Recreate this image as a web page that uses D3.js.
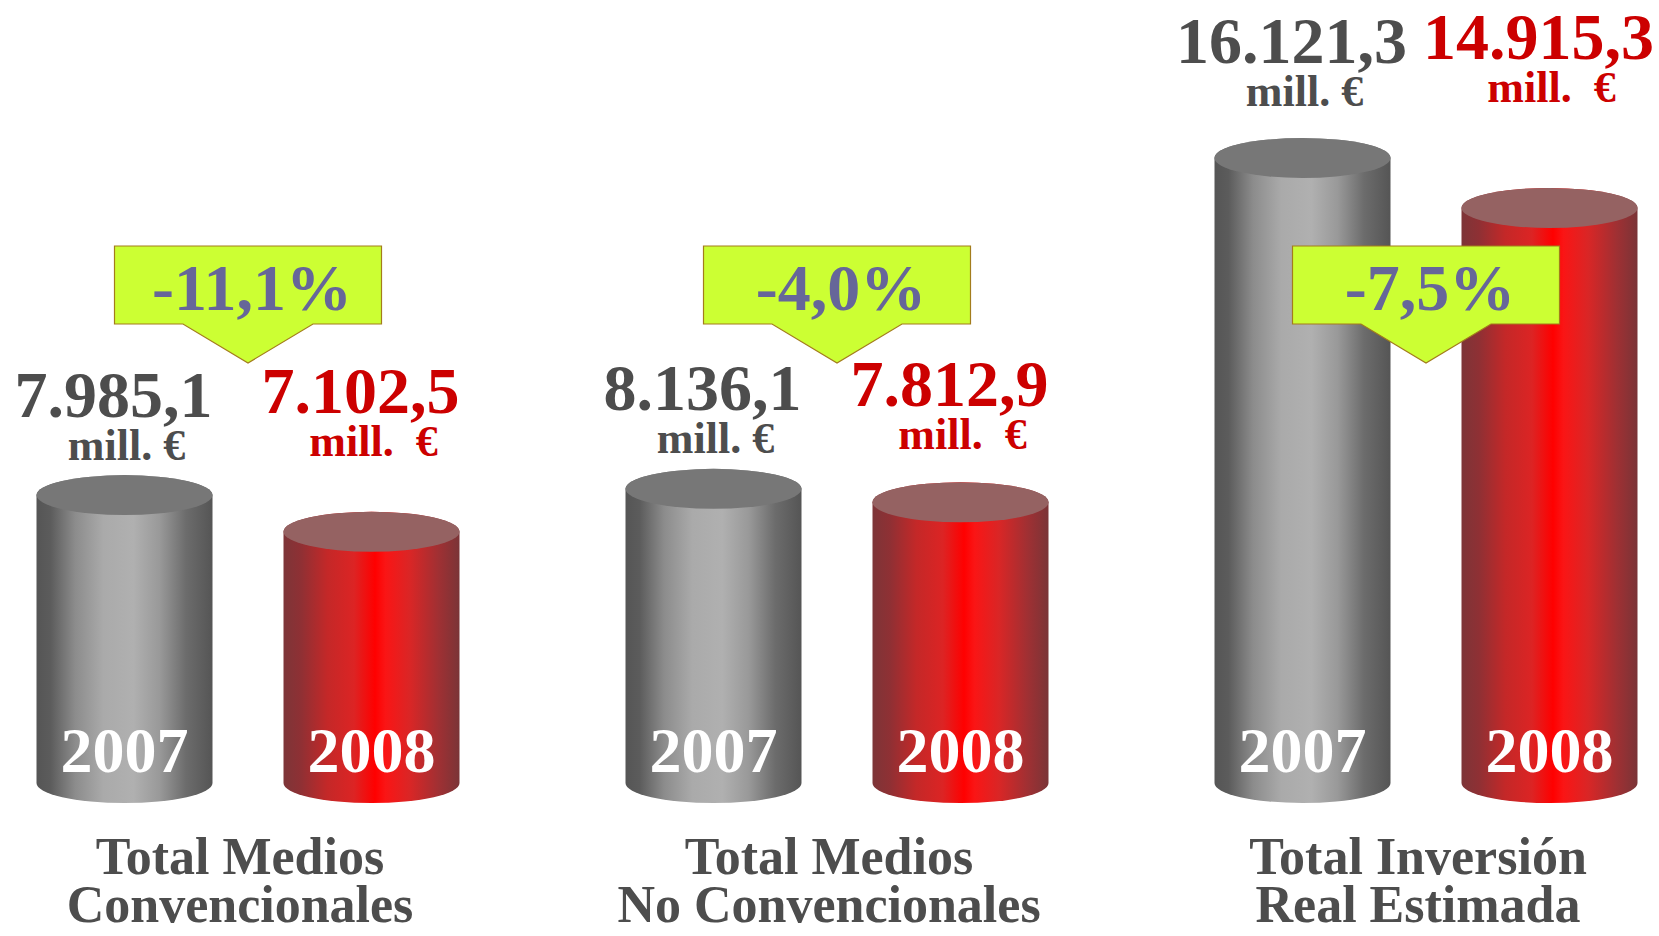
<!DOCTYPE html>
<html>
<head>
<meta charset="utf-8">
<script src="https://cdn.jsdelivr.net/npm/d3@7"></script>
<style>
    body { margin: 0; background: #fff; }
    svg text { font-family: "Liberation Serif", "Times New Roman", serif; font-weight: bold; white-space: pre; }
</style>
</head>
<body>
<div id="chart"></div>
<script>
// categories and their two-line labels
var categories = ["conv", "noconv", "total"];
var categoryLines = [
    ["Total Medios", "Convencionales"],
    ["Total Medios", "No Convencionales"],
    ["Total Inversión", "Real Estimada"]
];
var years = ["2007", "2008"];
var values2007 = [7985.1, 8136.1, 16121.3];
var values2008 = [7102.5, 7812.9, 14915.3];
var valueLabels2007 = ["7.985,1", "8.136,1", "16.121,3"];
var valueLabels2008 = ["7.102,5", "7.812,9", "14.915,3"];
var changeLabels = ["-11,1%", "-4,0%", "-7,5%"];
var unitLabels = ["mill. €", "mill.  €"];

var width = 1659,
    height = 936,
    base = 783,
    rx = 88,
    ry = 20;

var svg = d3.select("#chart")
    .append("svg")
    .attr("width", width)
    .attr("height", height);

var defs = svg.append("defs");

function hGradient(id, stops) {
    var g = defs.append("linearGradient")
        .attr("id", id)
        .attr("x1", "0%").attr("x2", "100%")
        .attr("y1", "0%").attr("y2", "0%");
    stops.forEach(function(s) {
        g.append("stop").attr("offset", s[0]).attr("stop-color", s[1]);
    });
}

hGradient("grayGrad", [
    ["0%", "#555555"], ["8%", "#5c5c5c"], ["22%", "#8c8c8c"], ["38%", "#aaaaaa"],
    ["55%", "#b0b0b0"], ["70%", "#999999"], ["85%", "#6c6c6c"], ["100%", "#555555"]
]);
hGradient("redGrad", [
    ["0%", "#7d3538"], ["10%", "#8f3034"], ["25%", "#c42828"], ["40%", "#dc2424"],
    ["52%", "#ff0000"], ["58%", "#fa1515"], ["72%", "#d92626"], ["88%", "#a03033"], ["100%", "#7a3437"]
]);

var sideFill = ["url(#grayGrad)", "url(#redGrad)"];
var topFill = ["#777777", "#956262"];
var textColor = ["#4d4d4d", "#cc0000"];

// vertical value scale (cylinder top centre)
var y = d3.scaleLinear()
    .domain([0, 16000])
    .range([826, 163]);

var xGroup = d3.scalePoint()
    .domain(categories)
    .range([248, 1426]);

var xYear = d3.scalePoint()
    .domain(years)
    .range([-123.5, 123.5]);

var data = categories.map(function(c, i) {
    return {
        key: c,
        lines: categoryLines[i],
        change: changeLabels[i],
        bars: [
            { year: years[0], value: values2007[i], label: valueLabels2007[i], k: 0 },
            { year: years[1], value: values2008[i], label: valueLabels2008[i], k: 1 }
        ]
    };
});

var groups = svg.selectAll("g.group")
    .data(data)
    .enter().append("g")
    .attr("class", "group")
    .attr("transform", function(d) {
        return "translate(" + xGroup(d.key) + ",0)";
    });

var bars = groups.selectAll("g.bar")
    .data(function(d) { return d.bars; })
    .enter().append("g")
    .attr("class", "bar");

// cylinder body
bars.append("path")
    .attr("d", function(d) {
        var cx = xYear(d.year),
            t = y(d.value);
        return "M" + (cx - rx) + "," + t +
            "L" + (cx - rx) + "," + base +
            "A" + rx + "," + ry + " 0 0 0 " + (cx + rx) + "," + base +
            "L" + (cx + rx) + "," + t +
            "A" + rx + "," + ry + " 0 0 0 " + (cx - rx) + "," + t + "Z";
    })
    .style("fill", function(d) { return sideFill[d.k]; });

// cylinder top
bars.append("ellipse")
    .attr("cx", function(d) { return xYear(d.year); })
    .attr("cy", function(d) { return y(d.value); })
    .attr("rx", rx)
    .attr("ry", ry)
    .style("fill", function(d) { return topFill[d.k]; });

// year label
bars.append("text")
    .attr("x", function(d) { return xYear(d.year); })
    .attr("y", base - 11)
    .attr("text-anchor", "middle")
    .style("font-size", "64px")
    .style("fill", "#ffffff")
    .text(function(d) { return d.year; });

// value labels above the bars
function labelBase(d, bar) {
    var top = y(d3.max(d.bars, function(b) { return b.value; }));
    return top * 1.05 - 103 - bar.k * 4;
}

groups.each(function(d) {
    var g = d3.select(this);
    d.bars.forEach(function(b) {
        var cx = xYear(b.year),
            yb = labelBase(d, b);
        g.append("text")
            .attr("x", cx - 11)
            .attr("y", yb)
            .attr("text-anchor", "middle")
            .style("font-size", "66px")
            .style("fill", textColor[b.k])
            .text(b.label);
        g.append("text")
            .attr("x", cx + 2)
            .attr("y", yb + 43)
            .attr("text-anchor", "middle")
            .style("font-size", "44px")
            .style("fill", textColor[b.k])
            .text(unitLabels[b.k]);
    });
});

// change callouts
var boxTop = 246,
    boxBottom = 324,
    boxHalf = 133.5,
    arrowHalf = 65,
    arrowDepth = 39;

var callouts = groups.append("g").attr("class", "callout");

callouts.append("path")
    .attr("d", function() {
        return "M" + (-boxHalf) + "," + boxTop +
            "H" + boxHalf +
            "V" + boxBottom +
            "H" + arrowHalf +
            "L0," + (boxBottom + arrowDepth) +
            "L" + (-arrowHalf) + "," + boxBottom +
            "H" + (-boxHalf) + "Z";
    })
    .style("fill", "#ccff33")
    .style("stroke", "#a37c1c")
    .style("stroke-width", 1.2);

callouts.append("text")
    .attr("x", 4)
    .attr("y", 310)
    .attr("text-anchor", "middle")
    .style("font-size", "66px")
    .style("fill", "#666699")
    .text(function(d) { return d.change; });

// category labels
groups.append("text")
    .attr("text-anchor", "middle")
    .style("font-size", "52px")
    .style("fill", "#4d4d4d")
    .selectAll("tspan")
    .data(function(d) { return d.lines; })
    .enter().append("tspan")
    .attr("x", -8)
    .attr("y", function(d, i) { return 874 + i * 48; })
    .text(function(d) { return d; });
</script>
</body>
</html>
